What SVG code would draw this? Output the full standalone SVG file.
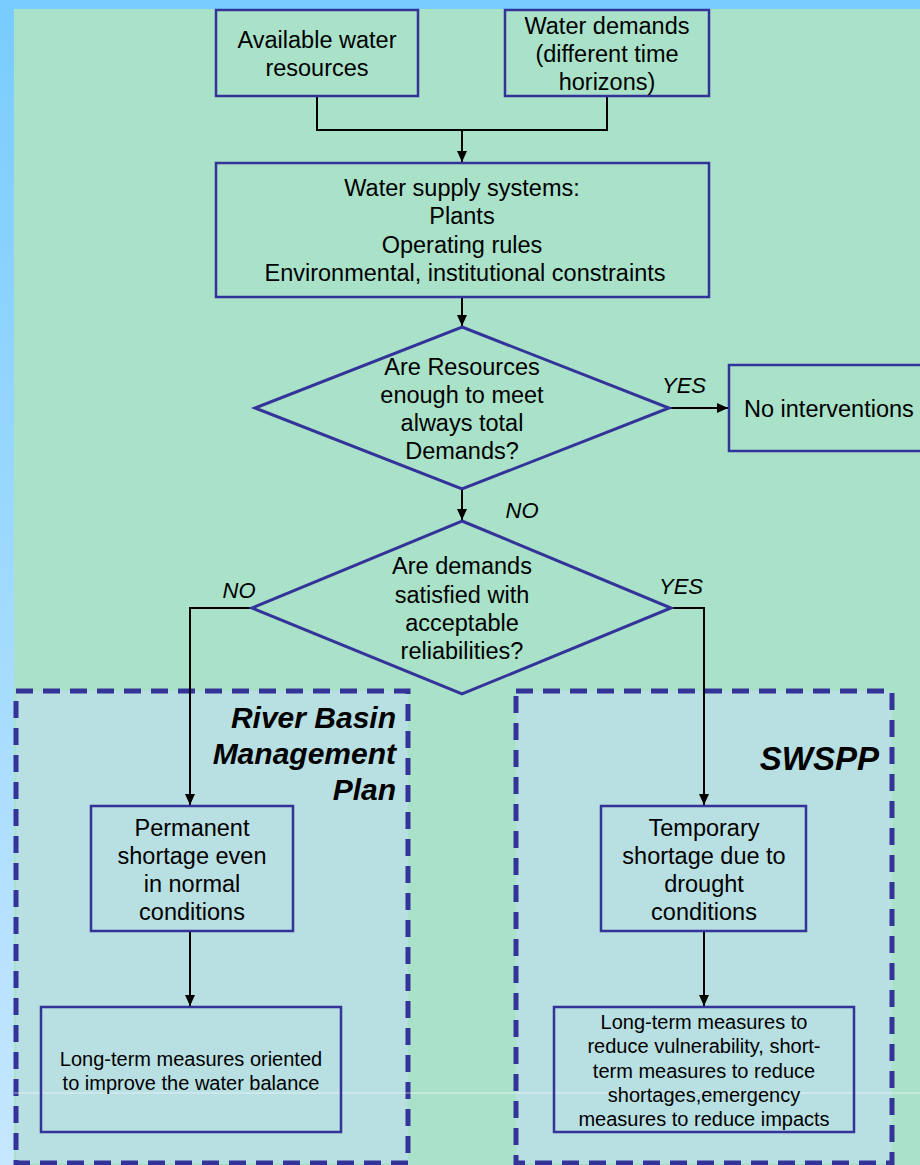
<svg xmlns="http://www.w3.org/2000/svg" width="920" height="1165" viewBox="0 0 920 1165">
<defs>
<linearGradient id="edge" x1="0" y1="0" x2="0" y2="1">
<stop offset="0" stop-color="#78ccff"/>
<stop offset="1" stop-color="#c6e7ff"/>
</linearGradient>
<marker id="arr" markerUnits="userSpaceOnUse" markerWidth="12" markerHeight="12" refX="11" refY="5" orient="auto">
<path d="M0,0 L11,5 L0,10 z" fill="#000"/>
</marker>
<style>
.box{fill:none;stroke:#333399;stroke-width:2.5}
.dia{fill:none;stroke:#333399;stroke-width:3}
.zone{fill:#b8dfe1;stroke:#333399;stroke-width:5;stroke-dasharray:17 10}
.t{font-family:"Liberation Sans",Arial,sans-serif;font-size:23.5px;fill:#000;text-anchor:middle}
.s{font-family:"Liberation Sans",Arial,sans-serif;font-size:20px;fill:#000;text-anchor:middle}
.lab{font-family:"Liberation Sans",Arial,sans-serif;font-size:22px;font-style:italic;fill:#000;text-anchor:middle}
.big{font-family:"Liberation Sans",Arial,sans-serif;font-size:30px;font-style:italic;font-weight:bold;fill:#000;text-anchor:end}
.c{fill:none;stroke:#000;stroke-width:2}
</style>
</defs>
<rect x="0" y="0" width="920" height="1165" fill="url(#edge)"/>
<rect x="0" y="0" width="920" height="9" fill="#78ccff"/>
<rect x="14" y="9" width="906" height="1156" fill="#a9e2c9"/>

<g id="zone-rbmp">
<rect class="zone" x="16" y="691" width="392" height="472"/>
<text class="big" x="396" y="728">River Basin</text>
<text class="big" x="396" y="764">Management</text>
<text class="big" x="396" y="800">Plan</text>
</g>
<g id="zone-swspp">
<rect class="zone" x="516" y="691" width="376" height="472"/>
<text class="big" x="879" y="770" style="font-size:33px">SWSPP</text>
</g>
<line x1="14" y1="1093" x2="920" y2="1093" stroke="#ffffff" stroke-width="1" opacity="0.6"/>

<g id="connectors">
<path class="c" d="M317,96 V130 H607 V96"/>
<path class="c" d="M462,130 V162" marker-end="url(#arr)"/>
<path class="c" d="M462,297 V326" marker-end="url(#arr)"/>
<path class="c" d="M669,408 H728" marker-end="url(#arr)"/>
<path class="c" d="M462,489 V520" marker-end="url(#arr)"/>
<path class="c" d="M252,608 H190 V805" marker-end="url(#arr)"/>
<path class="c" d="M670,608 H704 V805" marker-end="url(#arr)"/>
<path class="c" d="M190,931 V1006" marker-end="url(#arr)"/>
<path class="c" d="M704,931 V1006" marker-end="url(#arr)"/>
<text class="lab" x="684" y="393">YES</text>
<text class="lab" x="522" y="518">NO</text>
<text class="lab" x="239" y="598">NO</text>
<text class="lab" x="681" y="594">YES</text>
</g>

<g id="n-resources">
<rect class="box" x="216" y="10" width="202" height="86"/>
<text class="t" x="317" y="48">Available water</text>
<text class="t" x="317" y="76">resources</text>
</g>
<g id="n-demands">
<rect class="box" x="505" y="10" width="204" height="86"/>
<text class="t" x="607" y="34">Water demands</text>
<text class="t" x="607" y="62">(different time</text>
<text class="t" x="607" y="90">horizons)</text>
</g>
<g id="n-supply">
<rect class="box" x="216" y="163" width="493" height="134"/>
<text class="t" x="462" y="196">Water supply systems:</text>
<text class="t" x="462" y="224">Plants</text>
<text class="t" x="462" y="253">Operating rules</text>
<text class="t" x="465" y="281">Environmental, institutional constraints</text>
</g>
<g id="n-decision1">
<polygon class="dia" points="462,327 669,408 462,489 255,408"/>
<text class="t" x="462" y="375">Are Resources</text>
<text class="t" x="462" y="403">enough to meet</text>
<text class="t" x="462" y="431">always total</text>
<text class="t" x="462" y="459">Demands?</text>
</g>
<g id="n-nointerv">
<rect class="box" x="729" y="365" width="200" height="86"/>
<text class="t" x="744" y="417" style="text-anchor:start">No interventions</text>
</g>
<g id="n-decision2">
<polygon class="dia" points="462,521 671,608 462,694 252,608"/>
<text class="t" x="462" y="574">Are demands</text>
<text class="t" x="462" y="603">satisfied with</text>
<text class="t" x="462" y="631">acceptable</text>
<text class="t" x="462" y="659">reliabilities?</text>
</g>
<g id="n-permanent">
<rect class="box" x="91" y="806" width="202" height="125"/>
<text class="t" x="192" y="836">Permanent</text>
<text class="t" x="192" y="864">shortage even</text>
<text class="t" x="192" y="892">in normal</text>
<text class="t" x="192" y="920">conditions</text>
</g>
<g id="n-temporary">
<rect class="box" x="601" y="806" width="205" height="125"/>
<text class="t" x="704" y="836">Temporary</text>
<text class="t" x="704" y="864">shortage due to</text>
<text class="t" x="704" y="892">drought</text>
<text class="t" x="704" y="920">conditions</text>
</g>
<g id="n-longterm-left">
<rect class="box" x="41" y="1007" width="300" height="125"/>
<text class="s" x="191" y="1066">Long-term measures oriented</text>
<text class="s" x="191" y="1090">to improve the water balance</text>
</g>
<g id="n-longterm-right">
<rect class="box" x="554" y="1007" width="300" height="125"/>
<text class="s" x="704" y="1029">Long-term measures to</text>
<text class="s" x="704" y="1053">reduce vulnerability, short-</text>
<text class="s" x="704" y="1078">term measures to reduce</text>
<text class="s" x="704" y="1102">shortages,emergency</text>
<text class="s" x="704" y="1126">measures to reduce impacts</text>
</g>
</svg>
